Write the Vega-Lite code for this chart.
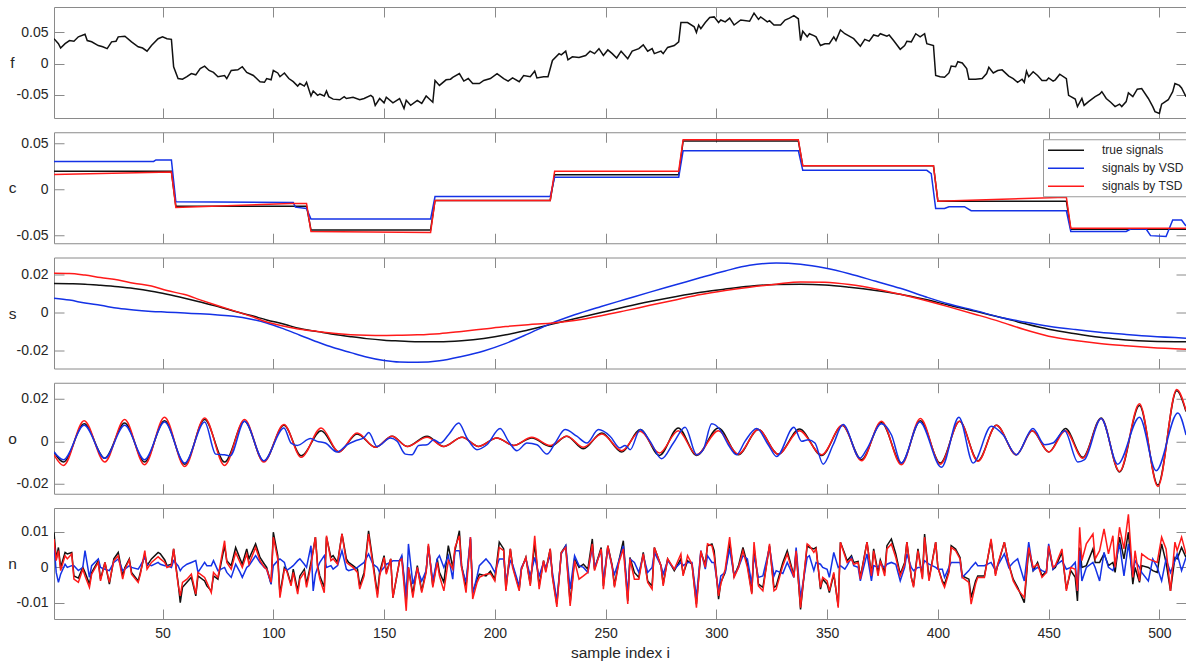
{
"$schema":"https://vega.github.io/schema/vega-lite/v6.json",
"background":"white",
"padding":{"left":5,"top":6,"right":0,"bottom":0},
"spacing":12.25,
"datasets":{
"f":[{"i":1,"v":0.040},{"i":3,"v":0.032},{"i":4,"v":0.025},{"i":6,"v":0.032},{"i":8,"v":0.037},{"i":10,"v":0.036},{"i":12,"v":0.043},{"i":15,"v":0.047},{"i":16,"v":0.037},{"i":18,"v":0.035},{"i":21,"v":0.029},{"i":23,"v":0.027},{"i":25,"v":0.024},{"i":27,"v":0.035},{"i":29,"v":0.036},{"i":30,"v":0.043},{"i":33,"v":0.044},{"i":36,"v":0.035},{"i":39,"v":0.027},{"i":41,"v":0.025},{"i":43,"v":0.020},{"i":45,"v":0.029},{"i":48,"v":0.040},{"i":50,"v":0.043},{"i":52,"v":0.040},{"i":54,"v":0.039},{"i":55,"v":-0.005},{"i":57,"v":-0.024},{"i":59,"v":-0.025},{"i":61,"v":-0.021},{"i":63,"v":-0.016},{"i":65,"v":-0.018},{"i":67,"v":-0.008},{"i":69,"v":-0.004},{"i":71,"v":-0.011},{"i":73,"v":-0.014},{"i":75,"v":-0.021},{"i":78,"v":-0.019},{"i":79,"v":-0.024},{"i":81,"v":-0.011},{"i":84,"v":-0.010},{"i":86,"v":-0.005},{"i":88,"v":-0.014},{"i":91,"v":-0.019},{"i":94,"v":-0.029},{"i":96,"v":-0.030},{"i":97,"v":-0.024},{"i":99,"v":-0.026},{"i":100,"v":-0.011},{"i":102,"v":-0.015},{"i":103,"v":-0.021},{"i":105,"v":-0.015},{"i":107,"v":-0.024},{"i":109,"v":-0.029},{"i":111,"v":-0.036},{"i":112,"v":-0.032},{"i":114,"v":-0.036},{"i":115,"v":-0.030},{"i":117,"v":-0.052},{"i":118,"v":-0.044},{"i":120,"v":-0.051},{"i":121,"v":-0.049},{"i":123,"v":-0.052},{"i":124,"v":-0.044},{"i":125,"v":-0.053},{"i":127,"v":-0.057},{"i":130,"v":-0.058},{"i":132,"v":-0.053},{"i":133,"v":-0.056},{"i":136,"v":-0.054},{"i":139,"v":-0.058},{"i":141,"v":-0.056},{"i":144,"v":-0.051},{"i":145,"v":-0.054},{"i":146,"v":-0.067},{"i":148,"v":-0.056},{"i":150,"v":-0.063},{"i":151,"v":-0.054},{"i":154,"v":-0.063},{"i":157,"v":-0.056},{"i":159,"v":-0.072},{"i":160,"v":-0.059},{"i":162,"v":-0.067},{"i":165,"v":-0.059},{"i":167,"v":-0.064},{"i":169,"v":-0.052},{"i":172,"v":-0.062},{"i":173,"v":-0.027},{"i":175,"v":-0.035},{"i":178,"v":-0.026},{"i":180,"v":-0.025},{"i":181,"v":-0.022},{"i":184,"v":-0.016},{"i":186,"v":-0.028},{"i":188,"v":-0.024},{"i":190,"v":-0.032},{"i":193,"v":-0.032},{"i":195,"v":-0.027},{"i":198,"v":-0.024},{"i":201,"v":-0.016},{"i":204,"v":-0.024},{"i":206,"v":-0.028},{"i":208,"v":-0.023},{"i":211,"v":-0.029},{"i":213,"v":-0.019},{"i":216,"v":-0.021},{"i":218,"v":-0.012},{"i":219,"v":-0.023},{"i":222,"v":-0.021},{"i":224,"v":-0.021},{"i":226,"v":0.005},{"i":229,"v":0.016},{"i":230,"v":0.014},{"i":232,"v":0.020},{"i":233,"v":0.006},{"i":235,"v":0.011},{"i":238,"v":0.010},{"i":241,"v":0.013},{"i":243,"v":0.020},{"i":245,"v":0.016},{"i":247,"v":0.024},{"i":249,"v":0.013},{"i":251,"v":0.022},{"i":253,"v":0.016},{"i":255,"v":0.009},{"i":257,"v":0.020},{"i":260,"v":0.008},{"i":262,"v":0.020},{"i":265,"v":0.024},{"i":267,"v":0.030},{"i":269,"v":0.020},{"i":271,"v":0.024},{"i":272,"v":0.016},{"i":275,"v":0.020},{"i":276,"v":0.016},{"i":278,"v":0.026},{"i":281,"v":0.029},{"i":283,"v":0.035},{"i":284,"v":0.066},{"i":287,"v":0.066},{"i":290,"v":0.059},{"i":291,"v":0.050},{"i":292,"v":0.062},{"i":293,"v":0.056},{"i":295,"v":0.066},{"i":297,"v":0.074},{"i":299,"v":0.075},{"i":301,"v":0.066},{"i":302,"v":0.070},{"i":304,"v":0.067},{"i":306,"v":0.073},{"i":308,"v":0.062},{"i":311,"v":0.070},{"i":315,"v":0.068},{"i":317,"v":0.081},{"i":319,"v":0.071},{"i":320,"v":0.075},{"i":323,"v":0.067},{"i":324,"v":0.069},{"i":326,"v":0.062},{"i":329,"v":0.062},{"i":331,"v":0.070},{"i":333,"v":0.073},{"i":335,"v":0.077},{"i":337,"v":0.072},{"i":338,"v":0.037},{"i":339,"v":0.052},{"i":341,"v":0.043},{"i":342,"v":0.048},{"i":344,"v":0.045},{"i":345,"v":0.043},{"i":347,"v":0.029},{"i":349,"v":0.032},{"i":351,"v":0.032},{"i":353,"v":0.043},{"i":354,"v":0.037},{"i":356,"v":0.054},{"i":358,"v":0.048},{"i":360,"v":0.044},{"i":362,"v":0.040},{"i":365,"v":0.028},{"i":367,"v":0.039},{"i":369,"v":0.036},{"i":371,"v":0.046},{"i":373,"v":0.044},{"i":374,"v":0.048},{"i":377,"v":0.044},{"i":378,"v":0.046},{"i":380,"v":0.037},{"i":383,"v":0.023},{"i":385,"v":0.029},{"i":386,"v":0.036},{"i":388,"v":0.035},{"i":390,"v":0.048},{"i":392,"v":0.043},{"i":394,"v":0.048},{"i":395,"v":0.032},{"i":398,"v":0.029},{"i":399,"v":-0.019},{"i":401,"v":-0.021},{"i":403,"v":-0.022},{"i":405,"v":-0.015},{"i":406,"v":-0.004},{"i":408,"v":-0.005},{"i":409,"v":0.003},{"i":411,"v":0.001},{"i":413,"v":-0.008},{"i":414,"v":-0.025},{"i":417,"v":-0.025},{"i":420,"v":-0.024},{"i":422,"v":-0.016},{"i":423,"v":-0.006},{"i":425,"v":-0.015},{"i":427,"v":-0.011},{"i":429,"v":-0.010},{"i":432,"v":-0.020},{"i":434,"v":-0.024},{"i":436,"v":-0.030},{"i":438,"v":-0.025},{"i":439,"v":-0.030},{"i":440,"v":-0.012},{"i":441,"v":-0.021},{"i":443,"v":-0.013},{"i":445,"v":-0.019},{"i":447,"v":-0.027},{"i":449,"v":-0.027},{"i":450,"v":-0.023},{"i":452,"v":-0.028},{"i":453,"v":-0.026},{"i":455,"v":-0.017},{"i":458,"v":-0.024},{"i":459,"v":-0.051},{"i":462,"v":-0.057},{"i":463,"v":-0.069},{"i":465,"v":-0.056},{"i":466,"v":-0.067},{"i":468,"v":-0.061},{"i":471,"v":-0.053},{"i":473,"v":-0.049},{"i":474,"v":-0.045},{"i":476,"v":-0.056},{"i":478,"v":-0.062},{"i":480,"v":-0.069},{"i":482,"v":-0.065},{"i":483,"v":-0.069},{"i":485,"v":-0.061},{"i":486,"v":-0.047},{"i":488,"v":-0.053},{"i":490,"v":-0.041},{"i":492,"v":-0.040},{"i":495,"v":-0.056},{"i":497,"v":-0.069},{"i":498,"v":-0.077},{"i":500,"v":-0.080},{"i":501,"v":-0.065},{"i":504,"v":-0.058},{"i":506,"v":-0.045},{"i":507,"v":-0.032},{"i":509,"v":-0.035},{"i":510,"v":-0.039},{"i":512,"v":-0.053}],
"c":[{"i":1,"v":0.0195,"k":"a"},{"i":54,"v":0.0195,"k":"a"},{"i":56,"v":-0.0184,"k":"a"},{"i":115,"v":-0.0184,"k":"a"},{"i":117,"v":-0.0443,"k":"a"},{"i":171,"v":-0.0443,"k":"a"},{"i":173,"v":-0.0122,"k":"a"},{"i":225,"v":-0.0122,"k":"a"},{"i":227,"v":0.0159,"k":"a"},{"i":283,"v":0.0159,"k":"a"},{"i":285,"v":0.0527,"k":"a"},{"i":337,"v":0.0527,"k":"a"},{"i":339,"v":0.0256,"k":"a"},{"i":398,"v":0.0256,"k":"a"},{"i":400,"v":-0.013,"k":"a"},{"i":458,"v":-0.013,"k":"a"},{"i":460,"v":-0.0436,"k":"a"},{"i":512,"v":-0.0436,"k":"a"},
{"i":1,"v":0.0303,"k":"b"},{"i":46,"v":0.0303,"k":"b"},{"i":47,"v":0.032,"k":"b"},{"i":54,"v":0.032,"k":"b"},{"i":56,"v":-0.0137,"k":"b"},{"i":109,"v":-0.0145,"k":"b"},{"i":110,"v":-0.0195,"k":"b"},{"i":115,"v":-0.021,"k":"b"},{"i":117,"v":-0.0325,"k":"b"},{"i":171,"v":-0.0325,"k":"b"},{"i":173,"v":-0.0079,"k":"b"},{"i":225,"v":-0.0079,"k":"b"},{"i":227,"v":0.0132,"k":"b"},{"i":283,"v":0.0132,"k":"b"},{"i":285,"v":0.042,"k":"b"},{"i":337,"v":0.042,"k":"b"},{"i":339,"v":0.0206,"k":"b"},{"i":395,"v":0.0206,"k":"b"},{"i":397,"v":0.017,"k":"b"},{"i":399,"v":-0.021,"k":"b"},{"i":403,"v":-0.021,"k":"b"},{"i":405,"v":-0.019,"k":"b"},{"i":412,"v":-0.019,"k":"b"},{"i":415,"v":-0.0234,"k":"b"},{"i":458,"v":-0.0234,"k":"b"},{"i":460,"v":-0.046,"k":"b"},{"i":485,"v":-0.046,"k":"b"},{"i":487,"v":-0.0433,"k":"b"},{"i":494,"v":-0.0433,"k":"b"},{"i":496,"v":-0.0505,"k":"b"},{"i":503,"v":-0.0515,"k":"b"},{"i":506,"v":-0.0335,"k":"b"},{"i":510,"v":-0.0335,"k":"b"},{"i":512,"v":-0.040,"k":"b"},
{"i":1,"v":0.0162,"k":"c"},{"i":54,"v":0.0188,"k":"c"},{"i":56,"v":-0.0198,"k":"c"},{"i":108,"v":-0.0155,"k":"c"},{"i":115,"v":-0.0155,"k":"c"},{"i":117,"v":-0.046,"k":"c"},{"i":171,"v":-0.047,"k":"c"},{"i":173,"v":-0.0122,"k":"c"},{"i":225,"v":-0.0122,"k":"c"},{"i":227,"v":0.0197,"k":"c"},{"i":283,"v":0.0197,"k":"c"},{"i":285,"v":0.054,"k":"c"},{"i":337,"v":0.054,"k":"c"},{"i":339,"v":0.0256,"k":"c"},{"i":398,"v":0.0256,"k":"c"},{"i":400,"v":-0.013,"k":"c"},{"i":458,"v":-0.0086,"k":"c"},{"i":460,"v":-0.0425,"k":"c"},{"i":512,"v":-0.0425,"k":"c"}],
"s":[{"i":1,"a":0.0153,"b":0.0076,"c":0.0208},{"i":8,"a":0.0152,"b":0.0066,"c":0.0207},{"i":15,"a":0.0150,"b":0.0050,"c":0.0198},{"i":22,"a":0.0144,"b":0.0038,"c":0.0185},{"i":30,"a":0.0136,"b":0.0022,"c":0.0172},{"i":37,"a":0.0127,"b":0.0013,"c":0.0155},{"i":45,"a":0.0113,"b":0.0006,"c":0.0140},{"i":52,"a":0.0097,"b":0.0002,"c":0.0116},{"i":60,"a":0.0076,"b":-0.0003,"c":0.0095},{"i":67,"a":0.0056,"b":-0.0007,"c":0.0067},{"i":75,"a":0.0032,"b":-0.0013,"c":0.0036},{"i":82,"a":0.0008,"b":-0.0020,"c":0.0010},{"i":90,"a":-0.0016,"b":-0.0035,"c":-0.0020},{"i":97,"a":-0.0039,"b":-0.0055,"c":-0.0050},{"i":105,"a":-0.0062,"b":-0.0088,"c":-0.0072},{"i":112,"a":-0.0085,"b":-0.0120,"c":-0.0088},{"i":120,"a":-0.0101,"b":-0.0156,"c":-0.0100},{"i":127,"a":-0.0115,"b":-0.0185,"c":-0.0110},{"i":135,"a":-0.0128,"b":-0.0212,"c":-0.0117},{"i":142,"a":-0.0138,"b":-0.0235,"c":-0.0120},{"i":150,"a":-0.0146,"b":-0.0254,"c":-0.0121},{"i":157,"a":-0.0150,"b":-0.0262,"c":-0.0120},{"i":165,"a":-0.0154,"b":-0.0263,"c":-0.0118},{"i":175,"a":-0.0155,"b":-0.0255,"c":-0.0112},{"i":185,"a":-0.0149,"b":-0.0232,"c":-0.0100},{"i":195,"a":-0.0137,"b":-0.0203,"c":-0.0087},{"i":205,"a":-0.0118,"b":-0.0163,"c":-0.0074},{"i":215,"a":-0.0092,"b":-0.0113,"c":-0.0064},{"i":225,"a":-0.0064,"b":-0.0060,"c":-0.0057},{"i":236,"a":-0.0033,"b":-0.0012,"c":-0.0042},{"i":248,"a":0.0000,"b":0.0032,"c":-0.0017},{"i":259,"a":0.0030,"b":0.0070,"c":0.0010},{"i":270,"a":0.0058,"b":0.0108,"c":0.0038},{"i":282,"a":0.0085,"b":0.0148,"c":0.0068},{"i":293,"a":0.0107,"b":0.0185,"c":0.0095},{"i":304,"a":0.0124,"b":0.0220,"c":0.0116},{"i":315,"a":0.0139,"b":0.0250,"c":0.0134},{"i":327,"a":0.0148,"b":0.0262,"c":0.0150},{"i":338,"a":0.0150,"b":0.0255,"c":0.0162},{"i":349,"a":0.0146,"b":0.0235,"c":0.0160},{"i":360,"a":0.0134,"b":0.0205,"c":0.0148},{"i":372,"a":0.0117,"b":0.0165,"c":0.0125},{"i":383,"a":0.0097,"b":0.0128,"c":0.0097},{"i":394,"a":0.0070,"b":0.0085,"c":0.0065},{"i":405,"a":0.0039,"b":0.0045,"c":0.0030},{"i":417,"a":0.0007,"b":0.0010,"c":-0.0010},{"i":428,"a":-0.0025,"b":-0.0025,"c":-0.0048},{"i":439,"a":-0.0058,"b":-0.0050,"c":-0.0090},{"i":450,"a":-0.0088,"b":-0.0072,"c":-0.0125},{"i":462,"a":-0.0112,"b":-0.0090,"c":-0.0148},{"i":473,"a":-0.0131,"b":-0.0104,"c":-0.0164},{"i":485,"a":-0.0145,"b":-0.0116,"c":-0.0176},{"i":496,"a":-0.0152,"b":-0.0126,"c":-0.0185},{"i":512,"a":-0.0155,"b":-0.0136,"c":-0.0194}],
"o":[{"i":1,"a":-0.0050,"c":-0.0063},{"i":5.3,"a":-0.0097,"c":-0.0113},{"i":14.6,"a":0.0082,"c":0.0097},{"i":23.9,"a":-0.0079,"c":-0.0097},{"i":32.9,"a":0.0086,"c":0.0102},{"i":41.9,"a":-0.0097,"c":-0.0110},{"i":50.9,"a":0.0097,"c":0.0113},{"i":60,"a":-0.0107,"c":-0.0118},{"i":69,"a":0.0102,"c":0.0110},{"i":78,"a":-0.0097,"c":-0.0113},{"i":87,"a":0.0094,"c":0.0102},{"i":95.7,"a":-0.0094,"c":-0.0097},{"i":104.8,"a":0.0075,"c":0.0079},{"i":112.6,"a":-0.0068,"c":-0.0075},{"i":121.6,"a":0.0050,"c":0.0063},{"i":129.6,"a":-0.0050,"c":-0.0050},{"i":137.8,"a":0.0035,"c":0.0039},{"i":146.1,"a":-0.0028,"c":-0.0028},{"i":153.6,"a":0.0024,"c":0.0024},{"i":160.4,"a":-0.0024,"c":-0.0024},{"i":169.4,"a":0.0024,"c":0.0019},{"i":176.9,"a":-0.0024,"c":-0.0024},{"i":185.2,"a":0.0019,"c":0.0019},{"i":192.7,"a":-0.0024,"c":-0.0024},{"i":200.9,"a":0.0016,"c":0.0016},{"i":208.5,"a":-0.0019,"c":-0.0019},{"i":216.7,"a":0.0016,"c":0.0019},{"i":225,"a":-0.0024,"c":-0.0019},{"i":232.5,"a":0.0024,"c":0.0024},{"i":240,"a":-0.0035,"c":-0.0028},{"i":248.3,"a":0.0039,"c":0.0035},{"i":257.3,"a":-0.0050,"c":-0.0044},{"i":265.6,"a":0.0055,"c":0.0047},{"i":274.3,"a":-0.0066,"c":-0.0055},{"i":282.8,"a":0.0063,"c":0.0050},{"i":291.1,"a":-0.0066,"c":-0.0063},{"i":300.9,"a":0.0063,"c":0.0050},{"i":309.9,"a":-0.0063,"c":-0.0060},{"i":318.9,"a":0.0055,"c":0.0055},{"i":327.9,"a":-0.0060,"c":-0.0060},{"i":337.5,"a":0.0058,"c":0.0050},{"i":347.5,"a":-0.0066,"c":-0.0063},{"i":356.9,"a":0.0074,"c":0.0075},{"i":365.5,"a":-0.0086,"c":-0.0091},{"i":374.5,"a":0.0089,"c":0.0094},{"i":383.5,"a":-0.0102,"c":-0.0110},{"i":392.1,"a":0.0097,"c":0.0107},{"i":401.1,"a":-0.0102,"c":-0.0107},{"i":409.8,"a":0.0094,"c":0.0094},{"i":418.1,"a":-0.0091,"c":-0.0094},{"i":426.4,"a":0.0075,"c":0.0075},{"i":435.4,"a":-0.0063,"c":-0.0063},{"i":442.6,"a":0.0050,"c":0.0050},{"i":450.1,"a":-0.0050,"c":-0.0050},{"i":457.6,"a":0.0060,"c":0.0050},{"i":465.4,"a":-0.0075,"c":-0.0079},{"i":473.7,"a":0.0110,"c":0.0107},{"i":482,"a":-0.0144,"c":-0.0141},{"i":491,"a":0.0168,"c":0.0176},{"i":499.3,"a":-0.0205,"c":-0.0212},{"i":507.8,"a":0.0238,"c":0.0243},{"i":512,"a":0.0140,"c":0.0145},
{"i":1,"b":-0.0050},{"i":5.3,"b":-0.0086},{"i":14.6,"b":0.0075},{"i":23.9,"b":-0.0079},{"i":32.9,"b":0.0075},{"i":41.9,"b":-0.0086},{"i":50.9,"b":0.0091},{"i":60,"b":-0.0102},{"i":69,"b":0.0091},{"i":74,"b":-0.0060},{"i":78,"b":-0.0063},{"i":80.5,"b":-0.0068},{"i":87,"b":0.0094},{"i":95.7,"b":-0.0091},{"i":104.8,"b":0.0063},{"i":108,"b":-0.0008},{"i":110.8,"b":-0.0019},{"i":116.8,"b":0.0013},{"i":119.8,"b":0},{"i":123.5,"b":-0.0008},{"i":128.8,"b":-0.0050},{"i":133.3,"b":-0.0016},{"i":137.1,"b":0.0003},{"i":140.8,"b":0.0016},{"i":143.1,"b":0.0042},{"i":146.8,"b":-0.0024},{"i":152.9,"b":0.0016},{"i":155.9,"b":0},{"i":159.6,"b":-0.0060},{"i":162.6,"b":-0.0063},{"i":165.6,"b":-0.0019},{"i":169.4,"b":-0.0016},{"i":172.4,"b":0.0008},{"i":175.4,"b":-0.0008},{"i":179.1,"b":0.0031},{"i":183.7,"b":0.0086},{"i":187.4,"b":0.0016},{"i":191.9,"b":-0.0039},{"i":196.4,"b":-0.0016},{"i":202.4,"b":0.0060},{"i":206.2,"b":0},{"i":210,"b":-0.0044},{"i":214.5,"b":-0.0008},{"i":219,"b":-0.0016},{"i":223.5,"b":-0.0060},{"i":227.2,"b":-0.0008},{"i":231.7,"b":0.0055},{"i":237,"b":0.0024},{"i":241.5,"b":-0.0008},{"i":246.8,"b":0.0055},{"i":252,"b":0.0024},{"i":256.5,"b":-0.0031},{"i":258.8,"b":-0.0019},{"i":261.1,"b":-0.0039},{"i":265.6,"b":0.0055},{"i":270.1,"b":0},{"i":275.3,"b":-0.0082},{"i":280.6,"b":-0.0008},{"i":285.9,"b":0.0066},{"i":291.1,"b":-0.0063},{"i":294.1,"b":-0.0039},{"i":297.9,"b":0.0082},{"i":301.6,"b":0.0055},{"i":305.4,"b":-0.0016},{"i":309.1,"b":-0.0063},{"i":312.9,"b":0},{"i":318.2,"b":0.0060},{"i":323.4,"b":-0.0016},{"i":327.2,"b":-0.0071},{"i":335,"b":0.0066},{"i":338.5,"b":0},{"i":341.5,"b":0.0008},{"i":344.5,"b":-0.0008},{"i":348.2,"b":-0.0107},{"i":352.7,"b":-0.0016},{"i":357.2,"b":0.0079},{"i":364.8,"b":-0.0079},{"i":367.8,"b":-0.0039},{"i":374.5,"b":0.0082},{"i":379,"b":0.0031},{"i":383.5,"b":-0.0102},{"i":391.8,"b":0.0091},{"i":401.6,"b":-0.0122},{"i":409.5,"b":0.0113},{"i":415.9,"b":-0.0102},{"i":424.1,"b":0.0071},{"i":429.4,"b":0.0031},{"i":435.4,"b":-0.0063},{"i":442.9,"b":0.0060},{"i":448.2,"b":-0.0016},{"i":451.9,"b":-0.0008},{"i":457.2,"b":0.0050},{"i":463.2,"b":-0.0097},{"i":466.2,"b":-0.0086},{"i":473.7,"b":0.0107},{"i":481.2,"b":-0.0107},{"i":491,"b":0.0113},{"i":498.5,"b":-0.0138},{"i":508.3,"b":0.0133},{"i":512,"b":0.0030}],
"n":[{"i":1,"a":0.0099,"b":0.0066,"c":0.008},{"i":2,"a":0.0024,"b":-0.0014,"c":0.0019},{"i":3,"a":0.0056,"b":-0.0042,"c":0.0047},{"i":4,"a":0,"b":-0.0019,"c":-0.0009},{"i":6,"a":0.0042,"b":0.0009,"c":0.0033},{"i":7,"a":0.0038,"b":0,"c":0.0024},{"i":9,"a":0.0042,"b":0.0005,"c":0.0038},{"i":10,"a":-0.0024,"b":0.0005,"c":-0.0033},{"i":12,"a":-0.003,"b":-0.0009,"c":-0.0042},{"i":14,"a":0,"b":0,"c":-0.0005},{"i":15,"a":-0.0014,"b":0.0047,"c":-0.0024},{"i":17,"a":-0.0047,"b":-0.0028,"c":-0.0056},{"i":18,"a":-0.0014,"b":0.0005,"c":-0.0019},{"i":21,"a":0.0019,"b":0.0024,"c":0.0014},{"i":22,"a":-0.0033,"b":0,"c":-0.0038},{"i":24,"a":0.0014,"b":-0.0005,"c":0.0014},{"i":26,"a":-0.0047,"b":-0.0009,"c":-0.0042},{"i":28,"a":0.0024,"b":0.0014,"c":0.0019},{"i":30,"a":0.0042,"b":0.0024,"c":0.0033},{"i":32,"a":-0.0024,"b":-0.0009,"c":-0.0033},{"i":33,"a":0,"b":-0.0005,"c":-0.0005},{"i":35,"a":0.0024,"b":0.0005,"c":0.0021},{"i":36,"a":-0.0014,"b":0,"c":-0.0019},{"i":39,"a":-0.0038,"b":-0.0005,"c":-0.0042},{"i":40,"a":-0.0014,"b":0.0005,"c":-0.0019},{"i":42,"a":0.0038,"b":0.0028,"c":0.0047},{"i":43,"a":0.0005,"b":0.0009,"c":-0.0005},{"i":45,"a":0.0024,"b":0.0005,"c":0.0014},{"i":48,"a":0.0042,"b":0.0014,"c":0.003},{"i":49,"a":0.0038,"b":0.0009,"c":0.0024},{"i":51,"a":0.0021,"b":0.0005,"c":0.0014},{"i":52,"a":0.0005,"b":0.0005,"c":0},{"i":54,"a":0.0009,"b":0,"c":0.0005},{"i":55,"a":0.0052,"b":0.0019,"c":0.0052},{"i":57,"a":-0.0042,"b":0.0005,"c":-0.0047},{"i":58,"a":-0.0099,"b":-0.0009,"c":-0.008},{"i":59,"a":-0.0056,"b":0,"c":-0.0042},{"i":61,"a":-0.0042,"b":0.0009,"c":-0.0033},{"i":63,"a":-0.0028,"b":0.0014,"c":-0.0019},{"i":65,"a":-0.008,"b":0.0019,"c":-0.0075},{"i":66,"a":-0.0024,"b":-0.0014,"c":-0.0014},{"i":69,"a":-0.0038,"b":0.0014,"c":-0.0028},{"i":70,"a":-0.0052,"b":0.0005,"c":-0.0042},{"i":72,"a":-0.0066,"b":0.0005,"c":-0.0071},{"i":73,"a":-0.0024,"b":0.0019,"c":-0.0014},{"i":75,"a":-0.0033,"b":-0.0009,"c":-0.0028},{"i":78,"a":0.0061,"b":0,"c":0.0075},{"i":79,"a":0.0019,"b":-0.0014,"c":0.0014},{"i":81,"a":0.0005,"b":-0.0028,"c":-0.0005},{"i":83,"a":0.0056,"b":0.0009,"c":0.0042},{"i":85,"a":0.0024,"b":-0.0014,"c":0.0014},{"i":86,"a":0.0009,"b":-0.0028,"c":0},{"i":88,"a":0.0052,"b":0,"c":0.0038},{"i":89,"a":0.0024,"b":0.0005,"c":0.0009},{"i":92,"a":0.0066,"b":0.0033,"c":0.0056},{"i":94,"a":0.0028,"b":0.0014,"c":0.0019},{"i":96,"a":0.0009,"b":0,"c":0},{"i":97,"a":0,"b":-0.0005,"c":-0.0005},{"i":99,"a":-0.0047,"b":-0.0047,"c":-0.0042},{"i":100,"a":0.0099,"b":0.0005,"c":0.0085},{"i":102,"a":0.0033,"b":0.0019,"c":0.0024},{"i":103,"a":-0.0075,"b":0.0024,"c":-0.0085},{"i":105,"a":0,"b":0.0014,"c":-0.0005},{"i":106,"a":-0.0005,"b":-0.0009,"c":-0.0009},{"i":108,"a":-0.0047,"b":0,"c":-0.0052},{"i":109,"a":-0.0005,"b":0.0005,"c":-0.0014},{"i":111,"a":-0.0066,"b":0.0019,"c":-0.0075},{"i":112,"a":-0.0024,"b":0.0024,"c":-0.0033},{"i":114,"a":-0.0005,"b":0.0009,"c":-0.0014},{"i":115,"a":-0.0047,"b":0,"c":-0.0056},{"i":117,"a":0.0014,"b":0.0061,"c":0.0005},{"i":118,"a":0.0047,"b":-0.0066,"c":0.0047},{"i":119,"a":0.0085,"b":-0.0019,"c":0.0085},{"i":120,"a":0.0005,"b":0,"c":0},{"i":121,"a":-0.0024,"b":0.0014,"c":-0.0033},{"i":123,"a":-0.0056,"b":0.0033,"c":-0.0071},{"i":124,"a":0.0085,"b":0,"c":0.0089},{"i":126,"a":0.0028,"b":0.0005,"c":0.0019},{"i":127,"a":0.0033,"b":-0.0005,"c":0.0024},{"i":129,"a":0.0014,"b":0.0005,"c":0.0009},{"i":131,"a":0.0094,"b":0.0047,"c":0.0094},{"i":133,"a":0.0024,"b":-0.0005,"c":0.0014},{"i":134,"a":0.0014,"b":-0.0009,"c":0.0009},{"i":136,"a":0.0005,"b":-0.0005,"c":0},{"i":138,"a":-0.0005,"b":0,"c":-0.0014},{"i":139,"a":-0.0052,"b":0.0005,"c":-0.0061},{"i":141,"a":-0.0014,"b":0.0014,"c":-0.0024},{"i":143,"a":0.0103,"b":0.0038,"c":0.0094},{"i":145,"a":0.0014,"b":0.0009,"c":0.0005},{"i":147,"a":-0.0075,"b":0,"c":-0.0085},{"i":148,"a":-0.0014,"b":-0.0014,"c":-0.0024},{"i":150,"a":0.0033,"b":0,"c":0.0028},{"i":151,"a":-0.0014,"b":0.0009,"c":-0.0019},{"i":153,"a":0.0024,"b":0.0014,"c":0.0024},{"i":154,"a":-0.0085,"b":0.0019,"c":-0.0085},{"i":157,"a":0.0019,"b":0.0019,"c":0.0019},{"i":158,"a":0.0028,"b":0.0033,"c":0.0024},{"i":160,"a":-0.0094,"b":-0.0085,"c":-0.0122},{"i":161,"a":0,"b":0.0066,"c":0},{"i":163,"a":-0.0075,"b":-0.0047,"c":-0.0085},{"i":165,"a":0.0005,"b":-0.0005,"c":0},{"i":167,"a":-0.0066,"b":-0.0038,"c":-0.0071},{"i":169,"a":-0.0009,"b":-0.0009,"c":-0.0014},{"i":170,"a":0.0061,"b":0.0056,"c":0.0066},{"i":172,"a":-0.0052,"b":-0.0038,"c":-0.0056},{"i":174,"a":0.0024,"b":0.0024,"c":0.0014},{"i":175,"a":-0.0014,"b":0.0033,"c":-0.0024},{"i":177,"a":-0.0042,"b":0,"c":-0.0066},{"i":179,"a":0.0061,"b":0.0033,"c":0.0019},{"i":181,"a":0,"b":-0.0033,"c":-0.0005},{"i":182,"a":0.0047,"b":0.0047,"c":0.0056},{"i":184,"a":0.0103,"b":0.0047,"c":0.0089},{"i":185,"a":0.0005,"b":0,"c":0},{"i":187,"a":-0.0052,"b":-0.0042,"c":-0.0071},{"i":189,"a":0.008,"b":0.0085,"c":0.0085},{"i":190,"a":-0.0071,"b":-0.0075,"c":-0.0089},{"i":192,"a":-0.0033,"b":-0.0024,"c":-0.0042},{"i":193,"a":-0.0019,"b":0.0005,"c":-0.0028},{"i":196,"a":-0.0024,"b":0.0024,"c":-0.0019},{"i":198,"a":-0.0011,"b":0.0009,"c":-0.0017},{"i":200,"a":-0.0033,"b":-0.0014,"c":-0.0038},{"i":202,"a":0.0071,"b":0.0024,"c":0.0056},{"i":204,"a":0.0052,"b":0.0024,"c":0.0047},{"i":205,"a":-0.0061,"b":-0.0038,"c":-0.0066},{"i":207,"a":0.0052,"b":0.0019,"c":0.0052},{"i":208,"a":0.0005,"b":0.0009,"c":0},{"i":211,"a":-0.0061,"b":-0.0052,"c":-0.0066},{"i":212,"a":-0.0005,"b":0,"c":-0.0005},{"i":214,"a":0.0028,"b":0.0024,"c":0.0028},{"i":216,"a":-0.0047,"b":-0.0024,"c":-0.0052},{"i":218,"a":0.0066,"b":0.0028,"c":0.0089},{"i":220,"a":-0.0052,"b":-0.0024,"c":-0.0061},{"i":222,"a":0.0019,"b":0.0014,"c":0.0019},{"i":223,"a":-0.0009,"b":0,"c":-0.0014},{"i":225,"a":0.0052,"b":0.0033,"c":0.0052},{"i":226,"a":-0.0024,"b":-0.0014,"c":-0.0028},{"i":228,"a":-0.0103,"b":-0.0094,"c":-0.0111},{"i":230,"a":0.0042,"b":0.0038,"c":0.0042},{"i":232,"a":0.0061,"b":0.0061,"c":0.0056},{"i":234,"a":-0.0099,"b":-0.0061,"c":-0.0108},{"i":236,"a":0.0024,"b":0.0033,"c":0.0019},{"i":238,"a":0,"b":0.0005,"c":-0.0033},{"i":240,"a":0.0009,"b":0,"c":-0.0024},{"i":242,"a":-0.0005,"b":-0.0014,"c":-0.0014},{"i":244,"a":0.008,"b":0.0056,"c":0.0066},{"i":245,"a":-0.0005,"b":0,"c":-0.0009},{"i":248,"a":0.0056,"b":0.0047,"c":0.0052},{"i":249,"a":-0.0052,"b":-0.0038,"c":-0.0061},{"i":251,"a":0.0061,"b":0.0056,"c":0.0061},{"i":253,"a":0.0005,"b":0,"c":0},{"i":254,"a":-0.0052,"b":-0.0019,"c":-0.0056},{"i":256,"a":0.0019,"b":0.0019,"c":0.0014},{"i":258,"a":0.0075,"b":0.0061,"c":0.0052},{"i":260,"a":-0.0094,"b":-0.0075,"c":-0.0103},{"i":261,"a":0.0028,"b":0.0024,"c":0.0024},{"i":263,"a":-0.0014,"b":0.0014,"c":-0.0033},{"i":265,"a":-0.0028,"b":-0.0014,"c":-0.0033},{"i":267,"a":0.0042,"b":0.0033,"c":0.0038},{"i":269,"a":-0.0038,"b":-0.0014,"c":-0.0042},{"i":271,"a":-0.0052,"b":0,"c":-0.0061},{"i":272,"a":0.0056,"b":0.0042,"c":0.0056},{"i":275,"a":0.0005,"b":0.0005,"c":0.0005},{"i":276,"a":-0.0047,"b":-0.0019,"c":-0.0052},{"i":278,"a":0.0024,"b":0.0019,"c":0.0024},{"i":281,"a":-0.0009,"b":-0.0005,"c":-0.0005},{"i":284,"a":0.0024,"b":0.0014,"c":0.0038},{"i":285,"a":-0.0019,"b":0.0005,"c":-0.0024},{"i":287,"a":0.0019,"b":0.0014,"c":0.0033},{"i":289,"a":0.0009,"b":0.0014,"c":0.0009},{"i":291,"a":-0.0103,"b":-0.0085,"c":-0.0113},{"i":293,"a":0.0042,"b":0.0047,"c":0.0047},{"i":295,"a":0.0009,"b":-0.0005,"c":0},{"i":296,"a":0.0061,"b":0.0033,"c":0.0066},{"i":298,"a":0.0066,"b":0.0014,"c":0.0061},{"i":299,"a":0.0047,"b":0.0014,"c":0.0033},{"i":301,"a":-0.0089,"b":-0.0066,"c":-0.008},{"i":302,"a":-0.0042,"b":-0.0024,"c":-0.0047},{"i":304,"a":-0.0014,"b":-0.0014,"c":-0.0005},{"i":306,"a":0.0071,"b":0.0052,"c":0.0085},{"i":308,"a":-0.0024,"b":-0.0024,"c":-0.0028},{"i":310,"a":0.0005,"b":0,"c":0},{"i":312,"a":0.0056,"b":0.0033,"c":0.0047},{"i":314,"a":0.0009,"b":0.0024,"c":0},{"i":316,"a":-0.0071,"b":-0.0047,"c":-0.0075},{"i":317,"a":0.0056,"b":0.0033,"c":0.0071},{"i":319,"a":-0.0047,"b":-0.0028,"c":-0.0052},{"i":321,"a":-0.0056,"b":-0.0024,"c":-0.0066},{"i":324,"a":0.0061,"b":0.0056,"c":0.0066},{"i":326,"a":-0.0056,"b":-0.0024,"c":-0.0066},{"i":327,"a":-0.0052,"b":-0.0009,"c":-0.0061},{"i":330,"a":0.0014,"b":-0.0017,"c":0.0005},{"i":332,"a":0.0047,"b":0.0014,"c":0.0038},{"i":335,"a":-0.0024,"b":-0.0028,"c":-0.0028},{"i":336,"a":0.0047,"b":0.0056,"c":0.0047},{"i":338,"a":-0.0118,"b":-0.0085,"c":-0.0113},{"i":341,"a":0.0061,"b":0.0028,"c":0.0066},{"i":342,"a":0.0056,"b":0.0033,"c":0.0061},{"i":344,"a":0.0052,"b":-0.0009,"c":0.0042},{"i":345,"a":0.0056,"b":0.0014,"c":0.0052},{"i":347,"a":-0.0061,"b":0.0009,"c":-0.0056},{"i":348,"a":-0.0033,"b":0,"c":-0.0028},{"i":350,"a":-0.0047,"b":-0.0005,"c":-0.0038},{"i":351,"a":-0.0071,"b":-0.0028,"c":-0.0066},{"i":353,"a":-0.0019,"b":0.0042,"c":-0.0014},{"i":355,"a":-0.0108,"b":0,"c":-0.0113},{"i":356,"a":0.0071,"b":0.0005,"c":0.0071},{"i":358,"a":0.0038,"b":-0.0005,"c":0.0033},{"i":359,"a":0.0019,"b":0.0005,"c":0.0014},{"i":361,"a":0.0033,"b":0.0028,"c":0.0024},{"i":362,"a":0.0014,"b":0.0005,"c":0.0009},{"i":364,"a":0.0017,"b":0,"c":0.0014},{"i":365,"a":-0.0028,"b":-0.0038,"c":-0.0033},{"i":368,"a":0.0071,"b":0.0038,"c":0.0071},{"i":370,"a":-0.0019,"b":-0.0038,"c":-0.0024},{"i":371,"a":0.0052,"b":0.0005,"c":0.0047},{"i":373,"a":-0.0014,"b":0,"c":-0.0024},{"i":374,"a":0.0021,"b":0.0009,"c":0.0019},{"i":376,"a":-0.0014,"b":0,"c":-0.0024},{"i":377,"a":0.0061,"b":0.0009,"c":0.0052},{"i":379,"a":0.008,"b":0.0014,"c":0.0066},{"i":381,"a":0.0038,"b":0.0009,"c":0.0028},{"i":383,"a":-0.0019,"b":-0.0038,"c":-0.0024},{"i":385,"a":0.0014,"b":0,"c":0.0009},{"i":386,"a":0.0071,"b":0.0038,"c":0.0071},{"i":388,"a":-0.0028,"b":0,"c":-0.0028},{"i":389,"a":-0.0052,"b":-0.0009,"c":-0.0056},{"i":391,"a":0.0052,"b":0,"c":0.0047},{"i":393,"a":-0.0028,"b":0,"c":-0.0033},{"i":394,"a":0.0094,"b":0.0019,"c":0.0085},{"i":396,"a":-0.0033,"b":0.0009,"c":-0.0038},{"i":399,"a":0.0071,"b":0,"c":0.0071},{"i":400,"a":0,"b":-0.0005,"c":0},{"i":402,"a":-0.0038,"b":-0.0005,"c":-0.0042},{"i":403,"a":-0.0047,"b":-0.0028,"c":-0.0056},{"i":405,"a":-0.0009,"b":0,"c":-0.0014},{"i":406,"a":0.0061,"b":0.0014,"c":0.0056},{"i":408,"a":0.0052,"b":0.0014,"c":0.0047},{"i":410,"a":0.0028,"b":0.0014,"c":0.0024},{"i":411,"a":-0.0024,"b":-0.0028,"c":-0.0028},{"i":414,"a":-0.0033,"b":-0.0009,"c":-0.0042},{"i":415,"a":-0.0085,"b":0,"c":-0.0103},{"i":417,"a":-0.0038,"b":0.0014,"c":-0.0047},{"i":418,"a":-0.0024,"b":0.0005,"c":-0.0028},{"i":421,"a":-0.0024,"b":0.0005,"c":-0.0028},{"i":424,"a":0.0075,"b":0.0014,"c":0.008},{"i":426,"a":-0.0019,"b":-0.0009,"c":-0.0024},{"i":427,"a":0.0005,"b":0.0005,"c":0.0009},{"i":430,"a":0.0071,"b":0.0038,"c":0.0071},{"i":432,"a":0.0009,"b":0,"c":0.0009},{"i":434,"a":-0.0033,"b":0.0014,"c":-0.0038},{"i":436,"a":-0.0056,"b":0.0024,"c":-0.0061},{"i":439,"a":-0.0099,"b":-0.0038,"c":-0.0085},{"i":441,"a":0.0052,"b":0.0071,"c":0.0056},{"i":443,"a":-0.0009,"b":-0.0009,"c":0},{"i":445,"a":0.0014,"b":0,"c":0.0009},{"i":447,"a":-0.0024,"b":-0.0009,"c":-0.0028},{"i":449,"a":-0.0009,"b":-0.0014,"c":-0.0014},{"i":450,"a":0.0056,"b":0.0066,"c":0.0061},{"i":452,"a":-0.0005,"b":-0.0005,"c":0},{"i":453,"a":0,"b":0.0005,"c":0.0005},{"i":456,"a":0.0042,"b":0.0019,"c":0.0052},{"i":458,"a":-0.0061,"b":-0.0005,"c":-0.0066},{"i":460,"a":-0.0009,"b":0,"c":0},{"i":462,"a":-0.0028,"b":0.0014,"c":-0.0005},{"i":463,"a":-0.0094,"b":-0.0066,"c":-0.0066},{"i":464,"a":0.0056,"b":0.0047,"c":0.0113},{"i":465,"a":0,"b":-0.0038,"c":0.0019},{"i":467,"a":0.0005,"b":0,"c":0.0066},{"i":470,"a":0.0052,"b":0.0014,"c":0.0094},{"i":471,"a":0.0014,"b":0,"c":0.0024},{"i":473,"a":0.0014,"b":-0.0038,"c":0.0047},{"i":475,"a":0.0038,"b":0.0042,"c":0.0108},{"i":477,"a":0.0005,"b":0,"c":0.0038},{"i":479,"a":0.0014,"b":-0.0009,"c":0.0089},{"i":480,"a":-0.0014,"b":0.0009,"c":0},{"i":482,"a":0.0085,"b":0.0066,"c":0.0113},{"i":484,"a":0.0024,"b":-0.0024,"c":0.0052},{"i":486,"a":0.0099,"b":0.0066,"c":0.0149},{"i":488,"a":-0.0047,"b":-0.0024,"c":-0.0028},{"i":489,"a":0,"b":0.0019,"c":0.0047},{"i":491,"a":-0.0042,"b":0,"c":-0.0038},{"i":492,"a":0.0005,"b":-0.0014,"c":0.0038},{"i":495,"a":0,"b":-0.0038,"c":0.0024},{"i":497,"a":-0.0009,"b":0.0024,"c":0.0019},{"i":499,"a":-0.0014,"b":0,"c":0.0014},{"i":501,"a":0.0066,"b":-0.0038,"c":0.0085},{"i":503,"a":0.0014,"b":0.0024,"c":0.0052},{"i":505,"a":-0.0066,"b":-0.0014,"c":-0.0066},{"i":507,"a":0.0028,"b":0.0019,"c":0.0071},{"i":508,"a":0.0024,"b":0.0038,"c":0.0047},{"i":510,"a":0.0056,"b":-0.0009,"c":0.0085},{"i":512,"a":0.0028,"b":0.0028,"c":0.0038}]
},
"vconcat":[
{"width":1132,"height":111,
 "layer":[
  {"data":{"name":"f"},"mark":{"type":"line","strokeWidth":1.5,"color":"#111111","clip":true},
   "encoding":{
    "x":{"field":"i","type":"quantitative","scale":{"domain":[1,512],"nice":false,"zero":false},"axis":{"orient":"bottom","values":[50,100,150,200,250,300,350,400,450,500],"labels":false,"title":null}},
    "y":{"field":"v","type":"quantitative","scale":{"domain":[-0.0873,0.0909],"nice":false,"zero":false},"axis":{"orient":"left","values":[-0.05,0,0.05],"title":"f"}}}},
  {"data":{"values":[{"i":1,"v":0}]},"mark":{"type":"point","opacity":0},
   "encoding":{
    "x":{"field":"i","type":"quantitative","axis":{"orient":"top","values":[50,100,150,200,250,300,350,400,450,500],"labels":false,"title":null,"minExtent":0,"maxExtent":0}},
    "y":{"field":"v","type":"quantitative","axis":{"orient":"right","values":[-0.05,0,0.05],"labels":false,"title":null,"minExtent":0,"maxExtent":0}}}}
 ],
 "resolve":{"axis":{"x":"independent","y":"independent"}}},
{"width":1132,"height":111,
 "layer":[
  {"data":{"name":"c"},"mark":{"type":"line","strokeWidth":1.5,"clip":true},
   "encoding":{
    "x":{"field":"i","type":"quantitative","scale":{"domain":[1,512],"nice":false,"zero":false},"axis":{"orient":"bottom","values":[50,100,150,200,250,300,350,400,450,500],"labels":false,"title":null}},
    "y":{"field":"v","type":"quantitative","scale":{"domain":[-0.0588,0.0621],"nice":false,"zero":false},"axis":{"orient":"left","values":[-0.05,0,0.05],"title":"c"}},
    "color":{"field":"k","type":"nominal","scale":{"domain":["a","b","c"],"range":["#111111","#1432e6","#ff1a1a"]},
      "legend":{"orient":"none","legendX":989,"legendY":7,"title":null,"labelExpr":"datum.label == 'a' ? 'true signals' : datum.label == 'b' ? 'signals by VSD' : 'signals by TSD'","symbolType":"M-3,0H3","symbolSize":144,"symbolOffset":12,"symbolStrokeWidth":1.5,"labelFontSize":12,"labelFont":"Liberation Sans","labelColor":"#262626","labelOffset":29,"fillColor":"white","strokeColor":"#9a9a9a","padding":4,"rowPadding":5,"cornerRadius":0}}}},
  {"data":{"values":[{"i":1,"v":0}]},"mark":{"type":"point","opacity":0},
   "encoding":{
    "x":{"field":"i","type":"quantitative","axis":{"orient":"top","values":[50,100,150,200,250,300,350,400,450,500],"labels":false,"title":null,"minExtent":0,"maxExtent":0}},
    "y":{"field":"v","type":"quantitative","axis":{"orient":"right","values":[-0.05,0,0.05],"labels":false,"title":null,"minExtent":0,"maxExtent":0}}}}
 ],
 "resolve":{"axis":{"x":"independent","y":"independent"}}},
{"width":1132,"height":111,
 "layer":[
  {"data":{"name":"s"},"transform":[{"fold":["a","b","c"],"as":["k","v"]}],"mark":{"type":"line","strokeWidth":1.5,"interpolate":"monotone","clip":true},
   "encoding":{
    "x":{"field":"i","type":"quantitative","scale":{"domain":[1,512],"nice":false,"zero":false},"axis":{"orient":"bottom","values":[50,100,150,200,250,300,350,400,450,500],"labels":false,"title":null}},
    "y":{"field":"v","type":"quantitative","scale":{"domain":[-0.0296,0.0291],"nice":false,"zero":false},"axis":{"orient":"left","values":[-0.02,0,0.02],"title":"s"}},
    "color":{"field":"k","type":"nominal","scale":{"domain":["a","b","c"],"range":["#111111","#1432e6","#ff1a1a"]},"legend":null}}},
  {"data":{"values":[{"i":1,"v":0}]},"mark":{"type":"point","opacity":0},
   "encoding":{
    "x":{"field":"i","type":"quantitative","axis":{"orient":"top","values":[50,100,150,200,250,300,350,400,450,500],"labels":false,"title":null,"minExtent":0,"maxExtent":0}},
    "y":{"field":"v","type":"quantitative","axis":{"orient":"right","values":[-0.02,0,0.02],"labels":false,"title":null,"minExtent":0,"maxExtent":0}}}}
 ],
 "resolve":{"axis":{"x":"independent","y":"independent"}}},
{"width":1132,"height":111,
 "layer":[
  {"data":{"name":"o"},"transform":[{"fold":["a","b","c"],"as":["k","v"]},{"filter":"isValid(datum.v)"}],"mark":{"type":"line","strokeWidth":1.5,"interpolate":"monotone","clip":true},
   "encoding":{
    "x":{"field":"i","type":"quantitative","scale":{"domain":[1,512],"nice":false,"zero":false},"axis":{"orient":"bottom","values":[50,100,150,200,250,300,350,400,450,500],"labels":false,"title":null}},
    "y":{"field":"v","type":"quantitative","scale":{"domain":[-0.0246,0.0275],"nice":false,"zero":false},"axis":{"orient":"left","values":[-0.02,0,0.02],"title":"o"}},
    "color":{"field":"k","type":"nominal","scale":{"domain":["a","b","c"],"range":["#111111","#1432e6","#ff1a1a"]},"legend":null}}},
  {"data":{"values":[{"i":1,"v":0}]},"mark":{"type":"point","opacity":0},
   "encoding":{
    "x":{"field":"i","type":"quantitative","axis":{"orient":"top","values":[50,100,150,200,250,300,350,400,450,500],"labels":false,"title":null,"minExtent":0,"maxExtent":0}},
    "y":{"field":"v","type":"quantitative","axis":{"orient":"right","values":[-0.02,0,0.02],"labels":false,"title":null,"minExtent":0,"maxExtent":0}}}}
 ],
 "resolve":{"axis":{"x":"independent","y":"independent"}}},
{"width":1132,"height":111,
 "layer":[
  {"data":{"name":"n"},"transform":[{"fold":["a","b","c"],"as":["k","v"]}],"mark":{"type":"line","strokeWidth":1.5,"clip":true},
   "encoding":{
    "x":{"field":"i","type":"quantitative","scale":{"domain":[1,512],"nice":false,"zero":false},"axis":{"orient":"bottom","values":[50,100,150,200,250,300,350,400,450,500],"labels":true,"title":"sample index  i","labelPadding":17,"titlePadding":5,"titleFontSize":15.5}},
    "y":{"field":"v","type":"quantitative","scale":{"domain":[-0.0145,0.0167],"nice":false,"zero":false},"axis":{"orient":"left","values":[-0.01,0,0.01],"title":"n"}},
    "color":{"field":"k","type":"nominal","scale":{"domain":["a","b","c"],"range":["#111111","#1432e6","#ff1a1a"]},"legend":null}}},
  {"data":{"values":[{"i":1,"v":0}]},"mark":{"type":"point","opacity":0},
   "encoding":{
    "x":{"field":"i","type":"quantitative","axis":{"orient":"top","values":[50,100,150,200,250,300,350,400,450,500],"labels":false,"title":null,"minExtent":0,"maxExtent":0}},
    "y":{"field":"v","type":"quantitative","axis":{"orient":"right","values":[-0.01,0,0.01],"labels":false,"title":null,"minExtent":0,"maxExtent":0}}}}
 ],
 "resolve":{"axis":{"x":"independent","y":"independent"}}}
],
"resolve":{"scale":{"color":"independent"},"legend":{"color":"independent"}},
"config":{
 "font":"Liberation Sans",
 "view":{"stroke":"#8a8a8a","strokeWidth":1},
 "axis":{"grid":false,"domain":false,"ticks":true,"tickColor":"#8a8a8a","tickSize":-10,"tickWidth":1,"labelFont":"Liberation Sans","labelFontSize":14,"labelColor":"#262626","titleFont":"Liberation Sans","titleColor":"#262626","titleFontWeight":"normal"},
 "axisLeft":{"minExtent":48,"maxExtent":48,"labelPadding":16,"labelExpr":"(datum.value < 0 ? '-' : '') + format(abs(datum.value), '~g')","titleAngle":0,"titleX":-42,"titleY":55.5,"titleAlign":"center","titleBaseline":"middle","titleFontSize":15.5}
}
}
